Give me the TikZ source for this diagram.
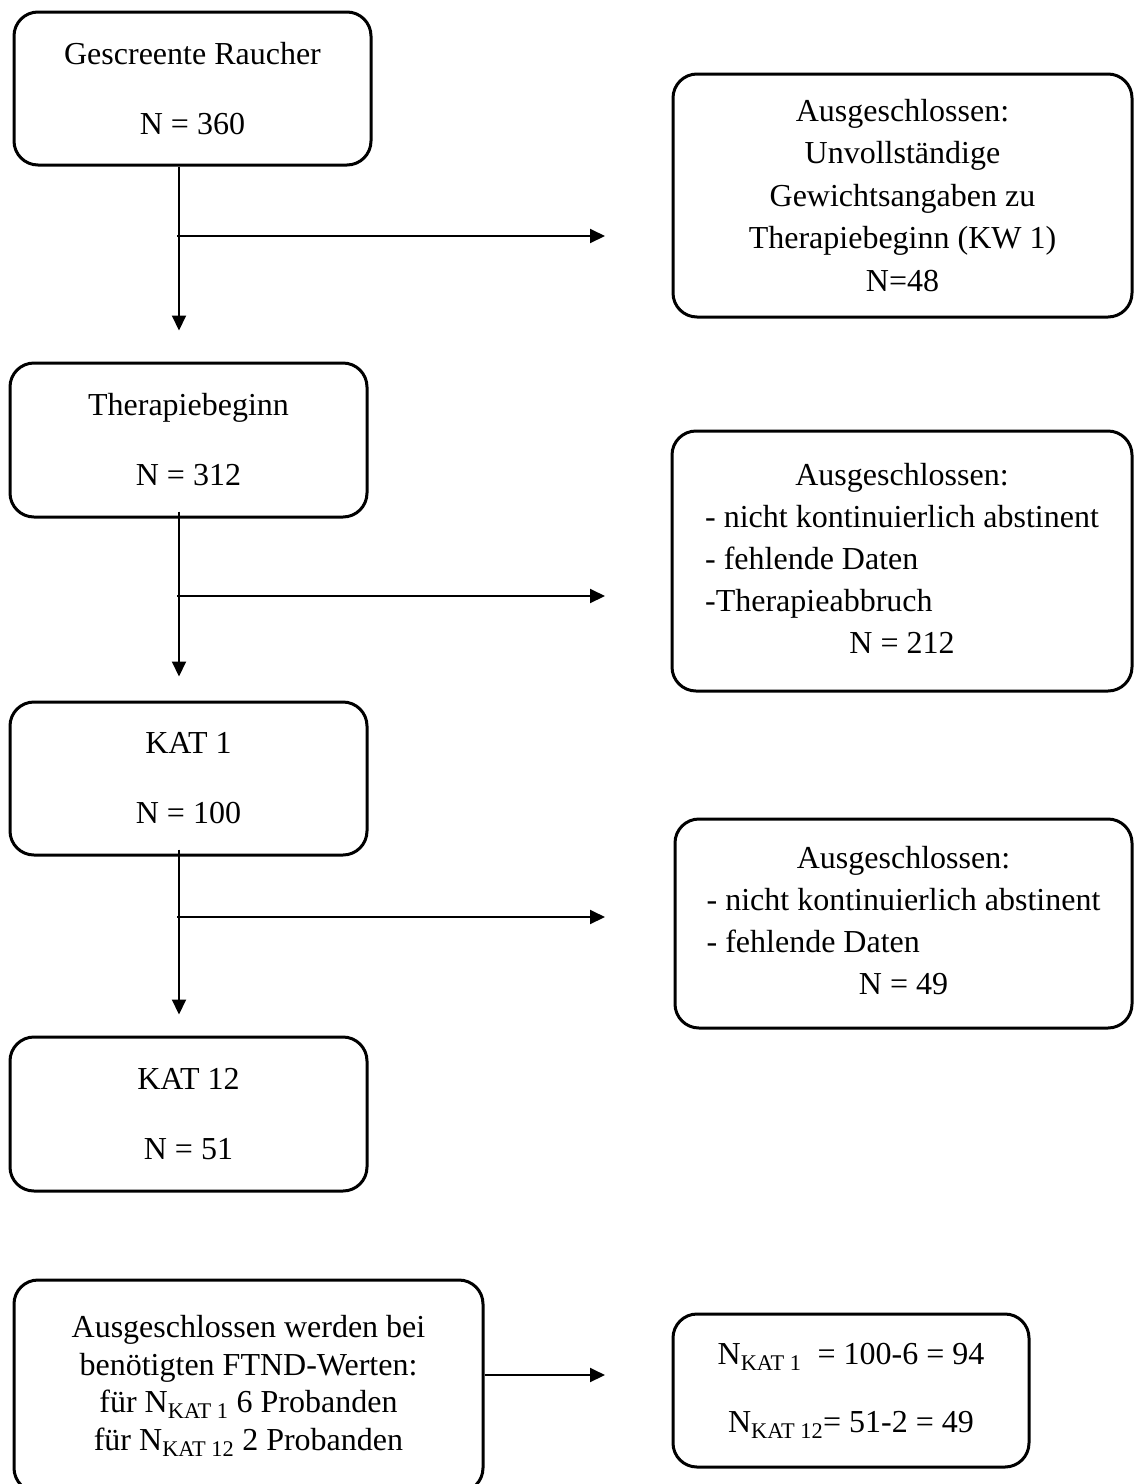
\documentclass[tikz,border=0pt]{standalone}
\usepackage{fontspec}
\setmainfont{Liberation Serif}
\usetikzlibrary{arrows.meta}
\begin{document}
\begin{tikzpicture}[x=1pt,y=-1pt,
  box/.style={draw, line width=3pt, rounded corners=24pt, inner sep=0pt},
  arr/.style={line width=2pt, -{Triangle[length=15pt,width=14pt]}},
  ltxt/.style={align=center, font=\fontsize{32}{70}\selectfont},
  rtxt/.style={align=center, font=\fontsize{32}{42.5}\selectfont},
  tabtxt/.style={font=\fontsize{32}{42}\selectfont},
  btxt/.style={align=center, font=\fontsize{32}{37.5}\selectfont},
  brtxt/.style={align=center, font=\fontsize{32}{68}\selectfont}]
\useasboundingbox (0,0) rectangle (1135,1484);

% left column boxes
\node[box, ltxt, minimum width=357pt, minimum height=153pt] (b1) at (192.5,88.5) {Gescreente Raucher\\N = 360};
\node[box, ltxt, minimum width=357pt, minimum height=154pt] (b2) at (188.5,440) {Therapiebeginn\\N = 312};
\node[box, ltxt, minimum width=357pt, minimum height=153pt] (b3) at (188.5,778.5) {KAT 1\\N = 100};
\node[box, ltxt, minimum width=357pt, minimum height=154pt] (b4) at (188.5,1114) {KAT 12\\N = 51};

% right column boxes
\node[box, rtxt, minimum width=459pt, minimum height=243pt] (r1) at (902.5,195.5)
  {Ausgeschlossen:\\Unvollständige\\Gewichtsangaben zu\\Therapiebeginn (KW 1)\\N=48};
\node[box, tabtxt, minimum width=460pt, minimum height=260pt] (r2) at (902,561)
  {\begin{tabular}{@{}l@{}}\multicolumn{1}{@{}c@{}}{Ausgeschlossen:}\\- nicht kontinuierlich abstinent\\- fehlende Daten\\-Therapieabbruch\\\multicolumn{1}{@{}c@{}}{N = 212}\end{tabular}};
\node[box, tabtxt, minimum width=457pt, minimum height=209pt] (r3) at (903.5,923.5)
  {\begin{tabular}{@{}l@{}}\multicolumn{1}{@{}c@{}}{Ausgeschlossen:}\\- nicht kontinuierlich abstinent\\- fehlende Daten\\\multicolumn{1}{@{}c@{}}{N = 49}\end{tabular}};

% bottom boxes
\node[box, btxt, minimum width=469pt, minimum height=212pt] (bl) at (248.5,1386)
  {Ausgeschlossen werden bei\\benötigten FTND-Werten:\\für N\textsubscript{KAT 1} 6 Probanden\\für N\textsubscript{KAT 12} 2 Probanden};
\node[box, brtxt, minimum width=356pt, minimum height=153pt] (br) at (851,1390.5)
  {N\textsubscript{KAT 1}\ \ = 100-6 = 94\\N\textsubscript{KAT 12}= 51-2 = 49};

% helper coordinates
\coordinate (tx) at (179,0);
\coordinate (tip) at (605,0);
\coordinate (s1) at (b1.south -| tx);
\coordinate (s2) at ([yshift=7pt]b2.south -| tx);
\coordinate (s3) at ([yshift=7pt]b3.south -| tx);
\coordinate (e1) at ([yshift=31pt]b2.north -| tx);
\coordinate (e2) at ([yshift=24pt]b3.north -| tx);
\coordinate (e3) at ([yshift=21pt]b4.north -| tx);
\coordinate (j1) at (177,236);
\coordinate (j2) at (177,596);
\coordinate (j3) at (177,917);

% trunk arrows
\draw[arr] (s1) -- (e1);
\draw[arr] (s2) -- (e2);
\draw[arr] (s3) -- (e3);

% branch arrows
\draw[arr] (j1) -- (j1 -| tip);
\draw[arr] (j2) -- (j2 -| tip);
\draw[arr] (j3) -- (j3 -| tip);

% bottom arrow
\coordinate (bs) at ([yshift=11pt]bl.east);
\draw[arr] (bs) -- (bs -| tip);
\end{tikzpicture}
\end{document}
